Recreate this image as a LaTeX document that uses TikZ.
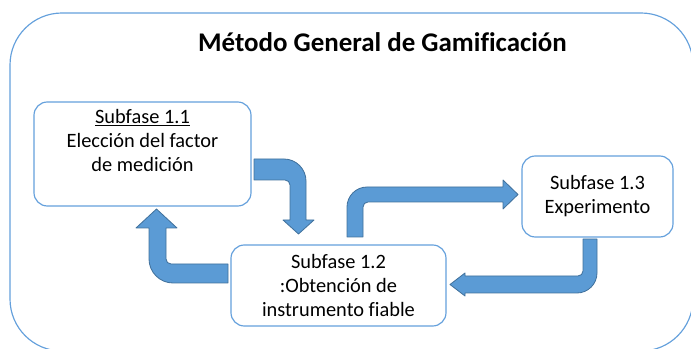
\documentclass[tikz,border=0pt]{standalone}
\usepackage{fontspec}
\setmainfont{Carlito}[Ligatures=CommonOff]
\usepackage{tikz}
\definecolor{azulborde}{RGB}{100,160,220}
\definecolor{azulflecha}{RGB}{91,155,213}
\definecolor{azuloscuro}{RGB}{65,113,156}

\begin{document}
\begin{tikzpicture}[x=0.03cm, y=-0.03cm,
  caja/.style={draw=azulborde, line width=1pt, rounded corners=0.4cm, fill=white, align=center,
    font=\fontsize{17.4}{20.5}\selectfont},
  flecha/.style={fill=azulflecha, draw=azuloscuro, line width=0.7pt, line join=round}]
\useasboundingbox (0,0) rectangle (691,349);

%Marco
\draw[azulborde, line width=1pt, rounded corners=1.56cm] (10,13) rectangle (693,351);
\node[anchor=base, font=\bfseries\fontsize{23}{27}\selectfont] (titulo) at (382.5,52) {Método General de Gamificación};

%Cajas
\node[caja, minimum width=6.51cm, minimum height=3.12cm] (s11) at (142.5,154) {};
\node[anchor=north, align=center, inner sep=0pt, font=\fontsize{17.4}{20.5}\selectfont] (t11) at ([yshift=-0.24cm]s11.north) {\underline{Subfase 1.1}\\Elección del factor\\de medición};
\node[caja, minimum width=6.45cm, minimum height=2.43cm] (s12) at (338.5,285.5) {Subfase 1.2\\:Obtención de\\instrumento fiable};
\node[caja, minimum width=4.53cm, minimum height=2.43cm] (s13) at (597.5,196.5) {Subfase 1.3\\Experimento};

%Flechas
% 1.1 -> 1.2
\draw[flecha] (254,159) -- (284,159) .. controls (296.1,159) and (306,168.9) .. (306,181) -- (306,220) -- (314,220) -- (298.5,234) -- (283,220) -- (290,220) -- (290,185) .. controls (290,182.2) and (287.8,180) .. (285,180) -- (254,180) -- cycle;
% 1.2 -> 1.1
\draw[flecha] (228,264) -- (171,264) .. controls (168.2,264) and (166,261.8) .. (166,259) -- (166,228) -- (177,228) -- (156.5,209) -- (136,228) -- (149,228) -- (149,259) .. controls (149,272.2) and (159.8,283) .. (173,283) -- (228,283) -- cycle;
% 1.2 -> 1.3
\draw[flecha] (347,237) -- (347,207) .. controls (347,196) and (356,187) .. (367,187) -- (503,187) -- (503,180) -- (518,194.5) -- (503,209) -- (503,202) -- (368,202) .. controls (365.2,202) and (363,204.2) .. (363,207) -- (363,237) -- cycle;
% 1.3 -> 1.2
\draw[flecha] (583,239) -- (597,239) -- (597,273) .. controls (597,284) and (588,293) .. (577,293) -- (465,293) -- (465,296) -- (450,284.5) -- (465,273) -- (465,276) -- (578,276) .. controls (580.8,276) and (583,273.8) .. (583,271) -- cycle;
\end{tikzpicture}
\end{document}
